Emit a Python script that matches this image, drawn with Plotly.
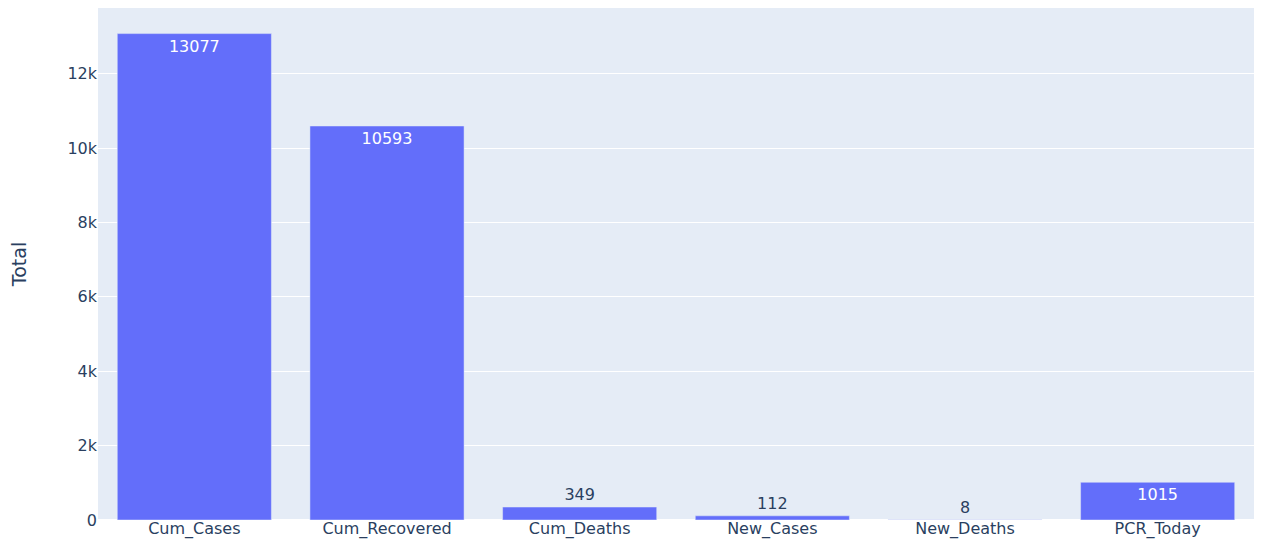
import plotly.graph_objects as go

categories = ["Cum_Cases", "Cum_Recovered", "Cum_Deaths", "New_Cases", "New_Deaths", "PCR_Today"]
totals = [13077, 10593, 349, 112, 8, 1015]

fig = go.Figure(go.Bar(
    x=categories, y=totals, text=totals, textposition="auto",
    marker=dict(color="#636efa"),
))
fig.update_layout(
    width=1246, height=532,
    template="plotly",
    font=dict(family="DejaVu Sans", size=16, color="#2a3f5f"),
    margin=dict(l=90, r=0, t=0, b=20, autoexpand=False),
    paper_bgcolor="white",
    plot_bgcolor="#e5ecf6",
    xaxis=dict(ticklabelstandoff=-3),
    yaxis=dict(title=dict(text="Total", standoff=35)),
)
fig.write_html("out.html")
